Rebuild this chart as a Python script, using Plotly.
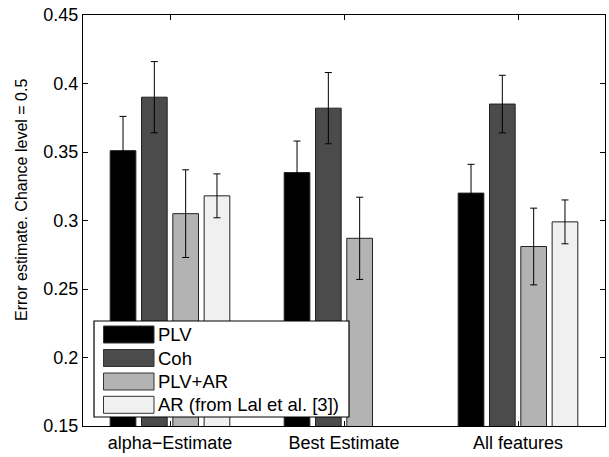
import plotly.graph_objects as go

categories = ["alpha\u2212Estimate", "Best Estimate", "All features"]
series_names = ["PLV", "Coh", "PLV+AR", "AR (from Lal et al. [3])"]
plv = [0.351, 0.335, 0.320]
coh = [0.390, 0.382, 0.385]
plv_ar = [0.305, 0.287, 0.281]
ar = [0.318, None, 0.299]
plv_err = [0.025, 0.023, 0.021]
coh_err = [0.026, 0.026, 0.021]
plv_ar_err = [0.032, 0.030, 0.028]
ar_err = [0.016, None, 0.016]
colors = ["#000000", "#4b4b4b", "#b3b3b3", "#f0f0f0"]
y_ticks = [0.15, 0.2, 0.25, 0.3, 0.35, 0.4, 0.45]
y_title = "Error estimate. Chance level = 0.5"

values = [plv, coh, plv_ar, ar]
errors = [plv_err, coh_err, plv_ar_err, ar_err]
xpos = [1, 2, 3]

FONT = "Liberation Sans, Arial, Helvetica, sans-serif"
W, H = 609, 457
ML, MR, MT, MB = 83, 4, 15, 31
PW, PH = W - ML - MR, H - MT - MB

fig = go.Figure()
for name, vals, errs, col in zip(series_names, values, errors, colors):
    fig.add_trace(go.Bar(
        x=xpos, y=vals, name=name,
        marker=dict(color=col, line=dict(color="#222222", width=1)),
        error_y=dict(type="data", array=[e if e is not None else 0 for e in errs],
                     visible=True, color="#000000", thickness=1, width=3.5),
        showlegend=False,
    ))

def px_x(p):
    return (p - ML) / PW

def px_y(p):
    return (H - MB - p) / PH

shapes = []
annotations = []
# legend box
shapes.append(dict(type="rect", xref="paper", yref="paper",
                   x0=px_x(94), x1=px_x(349), y0=px_y(417), y1=px_y(321),
                   fillcolor="white", line=dict(color="black", width=1.2), layer="above"))
row_centers = [334.5, 358, 381.5, 404.8]
for name, col, cy in zip(series_names, colors, row_centers):
    shapes.append(dict(type="rect", xref="paper", yref="paper",
                       x0=px_x(103.5), x1=px_x(154), y0=px_y(cy + 8.5), y1=px_y(cy - 8.5),
                       fillcolor=col, line=dict(color="#333333", width=1), layer="above"))
    annotations.append(dict(xref="paper", yref="paper", x=px_x(156), y=px_y(cy),
                            xanchor="left", yanchor="middle", text=name, showarrow=False,
                            font=dict(family=FONT, size=18.5, color="black")))

# y-axis title
annotations.append(dict(xref="paper", yref="paper", x=px_x(21), y=px_y(200),
                        xanchor="center", yanchor="middle", text=y_title, textangle=-90,
                        showarrow=False, font=dict(family=FONT, size=16, color="black")))

fig.update_layout(
    width=W, height=H,
    margin=dict(l=ML, r=MR, t=MT, b=MB, pad=0),
    paper_bgcolor="white", plot_bgcolor="white",
    barmode="group", bargap=0.28, bargroupgap=0.18,
    font=dict(family=FONT, size=18, color="black"),
    shapes=shapes, annotations=annotations,
    xaxis=dict(range=[0.5, 3.5], tickvals=xpos, ticktext=categories,
               showgrid=False, zeroline=False, showline=True, linecolor="black",
               linewidth=1, mirror="ticks", ticks="inside", ticklen=5,
               tickcolor="black", tickfont=dict(size=18)),
    yaxis=dict(range=[0.15, 0.45], tickvals=y_ticks,
               ticktext=[f"{v:g}" for v in y_ticks],
               showgrid=False, zeroline=False, showline=True, linecolor="black",
               linewidth=1, mirror="ticks", ticks="inside", ticklen=5,
               tickcolor="black", tickfont=dict(size=18)),
)

fig.write_html("out.html")
